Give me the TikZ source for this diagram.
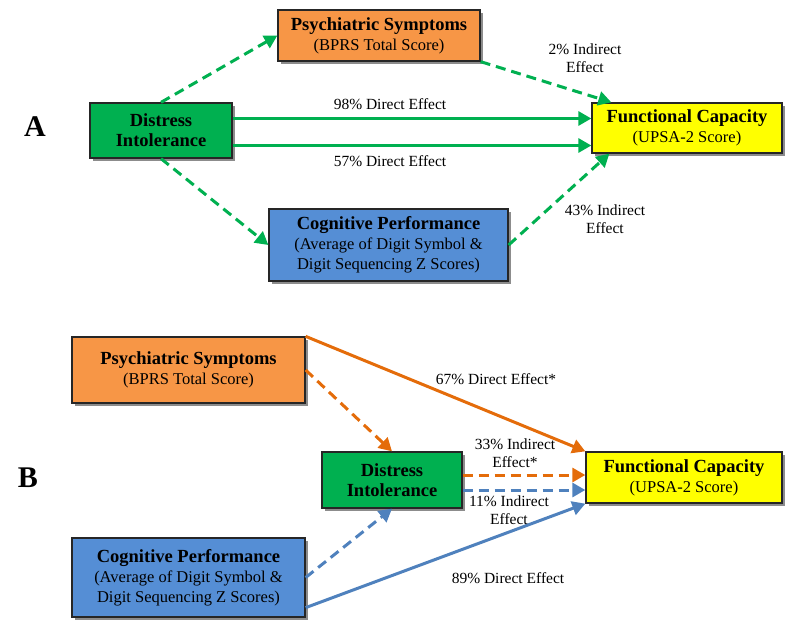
\documentclass[tikz,border=0pt]{standalone}
\usepackage{fontspec}
\setmainfont{Liberation Serif}
\usetikzlibrary{arrows.meta,shadows}

\definecolor{boxgreen}{HTML}{00B050}
\definecolor{boxorange}{HTML}{F79646}
\definecolor{boxblue}{HTML}{558ED5}
\definecolor{boxyellow}{HTML}{FFFF00}
\definecolor{arrgreen}{HTML}{00B050}
\definecolor{arrorange}{HTML}{E46C0A}
\definecolor{arrblue}{HTML}{4F81BD}

\newcommand{\ttl}[1]{{\fontsize{18.5}{21}\selectfont\bfseries #1}}

\tikzset{
	box/.style={draw=black!85, line width=1.3pt, align=center, inner sep=0pt,
		font=\fontsize{16.5}{20}\selectfont,
		drop shadow={shadow xshift=3pt, shadow yshift=-3pt, fill=black!45, opacity=1}},
	lbl/.style={align=center, font=\fontsize{15.5}{17.5}\selectfont},
	arr/.style={line width=3pt, -{Triangle[length=13pt, width=14pt]}},
	dsh/.style={arr, dash pattern=on 10pt off 6pt}
}

\begin{document}
\begin{tikzpicture}[x=1pt, y=-1pt]
		\useasboundingbox (0, 0) rectangle (785, 619);

		\node[font=\fontsize{30}{30}\selectfont\bfseries] (labA) at (35, 127) {A};
		\node[font=\fontsize{30}{30}\selectfont\bfseries] (labB) at (28, 478) {B};

		\node[box, fill=boxorange, minimum width=202pt, minimum height=51pt] (psyA) at (379, 35.5)
			{\ttl{Psychiatric Symptoms}\\(BPRS Total Score)};
		\node[box, fill=boxgreen, minimum width=142pt, minimum height=55pt] (disA) at (161, 130.5)
			{\ttl{Distress}\\\ttl{Intolerance}};
		\node[box, fill=boxyellow, minimum width=190pt, minimum height=50pt] (funA) at (687, 128)
			{\ttl{Functional Capacity}\\(UPSA-2 Score)};
		\node[box, fill=boxblue, minimum width=239pt, minimum height=72pt] (cogA) at (388.5, 245)
			{\ttl{Cognitive Performance}\\(Average of Digit Symbol \&\\Digit Sequencing Z Scores)};

		\draw[dsh, arrgreen] (disA.north) -- (psyA.west);
		\draw[dsh, arrgreen] (psyA.south east) -- ([xshift=20pt]funA.north west);
		\draw[dsh, arrgreen] (disA.south) -- (cogA.west);
		\draw[dsh, arrgreen] (cogA.east) -- ([xshift=18pt]funA.south west);
		\draw[arr, arrgreen] ([yshift=12pt]disA.east) -- ([yshift=12pt]disA.east -| funA.west);
		\draw[arr, arrgreen] ([yshift=-15pt]disA.east) -- ([yshift=-15pt]disA.east -| funA.west);

		\node[lbl] (dirA1) at (390, 104) {98\% Direct Effect};
		\node[lbl] (dirA2) at (390, 161) {57\% Direct Effect};
		\node[lbl] (indA1) at (585, 58) {2\% Indirect\\Effect};
		\node[lbl] (indA2) at (605, 219) {43\% Indirect\\Effect};

		\node[box, fill=boxorange, minimum width=233pt, minimum height=66pt] (psyB) at (188.5, 370)
			{\ttl{Psychiatric Symptoms}\\(BPRS Total Score)};
		\node[box, fill=boxgreen, minimum width=140pt, minimum height=56pt] (disB) at (392, 480)
			{\ttl{Distress}\\\ttl{Intolerance}};
		\node[box, fill=boxyellow, minimum width=196pt, minimum height=51pt] (funB) at (684, 477.5)
			{\ttl{Functional Capacity}\\(UPSA-2 Score)};
		\node[box, fill=boxblue, minimum width=233pt, minimum height=79pt] (cogB) at (188.5, 577.5)
			{\ttl{Cognitive Performance}\\(Average of Digit Symbol \&\\Digit Sequencing Z Scores)};

		\draw[arr, arrorange] (psyB.north east) -- (funB.north west);
		\draw[dsh, arrorange] (psyB.east) -- (disB.north);
		\draw[dsh, arrorange] ([yshift=5pt]disB.east) -- ([yshift=5pt]disB.east -| funB.west);
		\draw[dsh, arrblue] ([yshift=-10pt]disB.east) -- ([yshift=-10pt]disB.east -| funB.west);
		\draw[dsh, arrblue] (cogB.east) -- (disB.south);
		\draw[arr, arrblue] ([yshift=10pt]cogB.south east) -- (funB.south west);

		\node[lbl] (dirB1) at (496, 379) {67\% Direct Effect*};
		\node[lbl] (indB1) at (515, 453) {33\% Indirect\\Effect*};
		\node[lbl] (indB2) at (509, 510) {11\% Indirect\\Effect};
		\node[lbl] (dirB2) at (508, 578) {89\% Direct Effect};
	\end{tikzpicture}
\end{document}
